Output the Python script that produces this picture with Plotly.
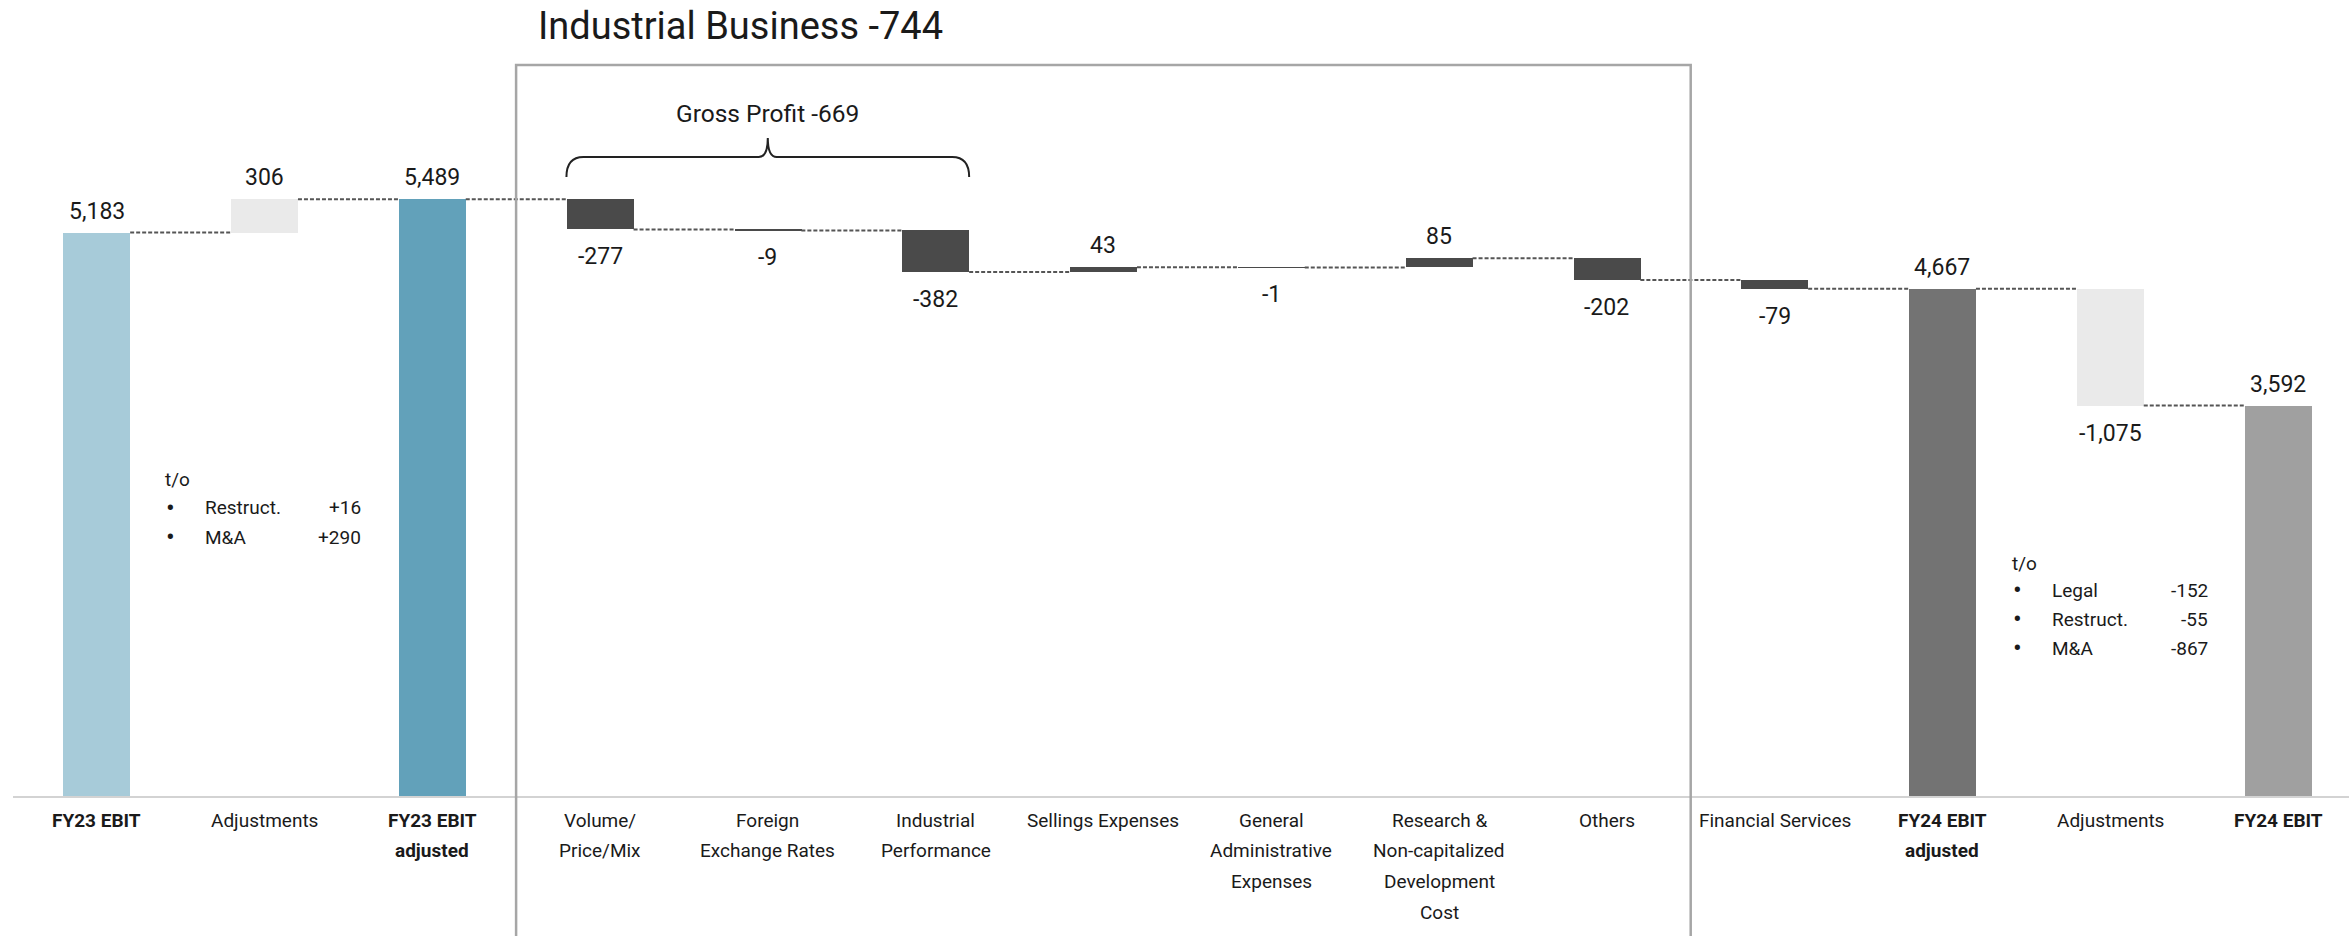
import plotly.graph_objects as go

# ---------------- data ----------------
categories = [
    "<b>FY23 EBIT</b>", "Adjustments", "<b>FY23 EBIT</b><br><b>adjusted</b>",
    "Volume/<br>Price/Mix", "Foreign<br>Exchange Rates", "Industrial<br>Performance",
    "Sellings Expenses", "General<br>Administrative<br>Expenses",
    "Research &<br>Non-capitalized<br>Development<br>Cost", "Others",
    "Financial Services", "<b>FY24 EBIT</b><br><b>adjusted</b>", "Adjustments", "<b>FY24 EBIT</b>",
]
values = [5183, 306, 5489, -277, -9, -382, 43, -1, 85, -202, -79, 4667, -1075, 3592]
measures = ["total", "relative", "total", "relative", "relative", "relative", "relative",
            "relative", "relative", "relative", "relative", "total", "relative", "total"]
bar_colors = ["#A7CBD9", "#EAEAEA", "#62A1BA", "#4A4A4A", "#4A4A4A", "#4A4A4A", "#4A4A4A",
              "#4A4A4A", "#4A4A4A", "#4A4A4A", "#4A4A4A", "#737373", "#EAEAEA", "#A0A0A0"]

title_text = "Industrial Business -744"
gross_profit_text = "Gross Profit -669"
left_note_title = "t/o"
left_note_items = ["Restruct.", "M&A"]
left_note_values = ["+16", "+290"]
right_note_title = "t/o"
right_note_items = ["Legal", "Restruct.", "M&A"]
right_note_values = ["-152", "-55", "-867"]

# ---------------- layout constants ----------------
W, H = 2349, 936
BASE_PX = 796           # pixel row of the value 0
PX_PER_UNIT = 0.1087
LEFT_PX = 12.7
CAT_PX = 167.8
BAR_W = 0.4
FONT = "Roboto, 'Liberation Sans', Arial, sans-serif"
TXT = "#1A1A1A"


def py(p):
    return 1 - p / H


def px(p):
    return p / W


x_idx = list(range(len(values)))

# waterfall geometry derived from data
bases, heights, ends = [], [], []
level = 0
for v, m in zip(values, measures):
    if m == "total":
        bases.append(0)
        heights.append(v)
        level = v
    else:
        bases.append(level)
        heights.append(v)
        level = level + v
    ends.append(level)

fig = go.Figure()
fig.add_trace(go.Bar(
    x=x_idx, y=heights, base=bases, width=BAR_W,
    marker=dict(color=bar_colors, line=dict(width=0)),
    hoverinfo="skip", showlegend=False,
))

# connectors
cx, cy = [], []
for i in range(len(values) - 1):
    cx += [i + BAR_W / 2, i + 1 - BAR_W / 2, None]
    cy += [ends[i], ends[i], None]
fig.add_trace(go.Scatter(
    x=cx, y=cy, mode="lines",
    line=dict(color="#555555", width=2, dash="4px,2px"),
    hoverinfo="skip", showlegend=False,
))

annotations = []
# value labels
for i, (b, h, m) in enumerate(zip(bases, heights, measures)):
    label = f"{values[i]:,}"
    if h >= 0:
        annotations.append(dict(x=i, y=b + h, xref="x", yref="y", text=label,
                                showarrow=False, yanchor="bottom", yshift=6,
                                font=dict(size=23, color=TXT, family=FONT)))
    else:
        annotations.append(dict(x=i, y=b + h, xref="x", yref="y", text=label,
                                showarrow=False, yanchor="top", yshift=-12,
                                font=dict(size=23, color=TXT, family=FONT)))

# category labels (line by line, to match the generous line spacing)
for i, cat in enumerate(categories):
    for j, line in enumerate(cat.split("<br>")):
        annotations.append(dict(x=i, y=py(820 + j * 30.7), xref="x", yref="paper",
                                text=line, showarrow=False, yanchor="middle",
                                font=dict(size=19, color=TXT, family=FONT)))

# title
annotations.append(dict(x=px(536), y=py(26), xref="paper", yref="paper", text=title_text,
                        showarrow=False, xanchor="left", yanchor="middle",
                        font=dict(size=38, color=TXT, family=FONT)))
# gross profit
annotations.append(dict(x=4, y=py(113), xref="x", yref="paper", text=gross_profit_text,
                        showarrow=False, yanchor="middle",
                        font=dict(size=24.5, color=TXT, family=FONT)))


def note(x_bullet, x_label, x_value, title_y, rows_y, title, items, vals):
    out = [dict(x=px(x_bullet - 3), y=py(title_y), xref="paper", yref="paper", text=title,
                showarrow=False, xanchor="left", yanchor="middle",
                font=dict(size=19, color=TXT, family=FONT))]
    for yy, it, vv in zip(rows_y, items, vals):
        out.append(dict(x=px(x_bullet - 2), y=py(yy), xref="paper", yref="paper", text="•",
                        showarrow=False, xanchor="left", yanchor="middle",
                        font=dict(size=26, color=TXT, family=FONT)))
        out.append(dict(x=px(x_label), y=py(yy), xref="paper", yref="paper", text=it,
                        showarrow=False, xanchor="left", yanchor="middle",
                        font=dict(size=19, color=TXT, family=FONT)))
        out.append(dict(x=px(x_value), y=py(yy), xref="paper", yref="paper", text=vv,
                        showarrow=False, xanchor="right", yanchor="middle",
                        font=dict(size=19, color=TXT, family=FONT)))
    return out


annotations += note(166, 203, 363, 480, [508, 537], left_note_title, left_note_items, left_note_values)
annotations += note(2013, 2050, 2210, 563, [590, 619, 648], right_note_title, right_note_items, right_note_values)

# shapes: Industrial Business box and Gross Profit brace
shapes = [
    dict(type="path", xref="x", yref="paper",
         path=f"M 2.5,{py(H + 20)} L 2.5,{py(65)} L 9.5,{py(65)} L 9.5,{py(H + 20)}",
         line=dict(color="#A6A6A6", width=2.5)),
]
bl, br, bc = 3 - BAR_W / 2, 5 + BAR_W / 2, 4.0
dq = 17 / CAT_PX
dc = 9 / CAT_PX
brace = (f"M {bl},{py(177)} Q {bl},{py(157)} {bl + dq},{py(157)} "
         f"L {bc - dc},{py(157)} Q {bc},{py(157)} {bc},{py(138)} "
         f"Q {bc},{py(157)} {bc + dc},{py(157)} "
         f"L {br - dq},{py(157)} Q {br},{py(157)} {br},{py(177)}")
shapes.append(dict(type="path", xref="x", yref="paper", path=brace,
                   line=dict(color="#222222", width=2)))

fig.update_layout(
    width=W, height=H,
    margin=dict(l=0, r=0, t=0, b=0),
    paper_bgcolor="white", plot_bgcolor="white",
    bargap=0,
    xaxis=dict(domain=[LEFT_PX / W, 1],
               range=[-0.5, -0.5 + (W - LEFT_PX) / CAT_PX],
               showgrid=False, zeroline=False, showticklabels=False,
               showline=True, linecolor="#D3D3D3", linewidth=2, ticks="", fixedrange=True),
    yaxis=dict(domain=[(H - BASE_PX) / H, 1],
               range=[0, BASE_PX / PX_PER_UNIT],
               visible=False, fixedrange=True),
    annotations=annotations,
    shapes=shapes,
    font=dict(family=FONT, color=TXT),
)

fig.write_html("out.html")
